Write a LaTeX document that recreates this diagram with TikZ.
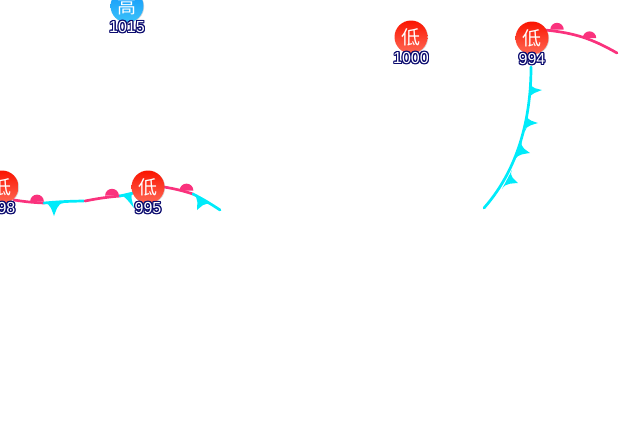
\documentclass[tikz,border=0pt]{standalone}
\usepackage{fontspec}
\usepackage[copies]{contour}
\setmainfont{Liberation Sans}
\newfontfamily\cjkfont{Noto Sans CJK SC}
\contourlength{1.1pt}
\contournumber{12}
\usetikzlibrary{shadows,calc}

\definecolor{warmfront}{RGB}{250,50,125}
\definecolor{coldfront}{RGB}{0,235,250}
\definecolor{haloblue}{RGB}{10,10,110}
\definecolor{lowtop}{RGB}{250,20,0}
\definecolor{lowbottom}{RGB}{255,105,85}
\definecolor{hightop}{RGB}{15,150,250}
\definecolor{highbottom}{RGB}{60,195,250}

\tikzset{
  warm/.style={draw=warmfront, line width=2.7pt, line cap=round},
  cold/.style={draw=coldfront, line width=2.7pt, line cap=round},
  warmbump/.style={fill=warmfront},
  coldbarb/.style={fill=coldfront},
  centre/.style={circle, minimum size=33pt, inner sep=0pt, text=white,
    font=\cjkfont\fontsize{19}{19}\selectfont,
    drop shadow={shadow xshift=0.7pt, shadow yshift=-0.5pt, opacity=0.3, fill=gray}},
  low/.style={centre, top color=lowtop, bottom color=lowbottom},
  high/.style={centre, top color=hightop, bottom color=highbottom},
  pressure/.style={inner sep=0pt, font=\fontsize{16}{16}\selectfont}
}

% half disc sitting on a warm front: centre, radius
\newcommand{\bump}[2]{\fill[warmbump] (#1) ++(-#2,0) arc[start angle=180, end angle=360, radius=#2] -- cycle;}
% cold barb: start on the line, tip, end on the line
\newcommand{\barb}[3]{\fill[coldbarb] (#1) .. controls ($(#1)!0.35!(#3)$) and ($(#2)!0.3!($(#1)!0.2!(#3)$)$) .. (#2)
  .. controls ($(#2)!0.3!($(#3)!0.2!(#1)$)$) and ($(#3)!0.35!(#1)$) .. (#3) -- cycle;}

\begin{document}
\begin{tikzpicture}[x=1pt, y=-1pt]
  \useasboundingbox (0,0) rectangle (640,440);
  \clip (0,0) rectangle (640,440);

  % front ends
  \coordinate (a1) at (14,200);
  \coordinate (a2) at (44,203);
  \coordinate (a3) at (84,201);
  \coordinate (a4) at (85,201);
  \coordinate (a5) at (120,196);
  \coordinate (a6) at (133,193);
  \coordinate (a7) at (164,187);
  \coordinate (a8) at (193,194);
  \coordinate (a9) at (220,210);
  \coordinate (b1) at (545,30);
  \coordinate (b2) at (617,53);
  \coordinate (b3) at (531,67);
  \coordinate (b4) at (484,208);

  % left front
  \draw[warm] (a1) to[bend right=3] (a2);
  \draw[cold] (a2) to[bend left=2] (a3);
  \draw[warm] (a4) to[bend left=3] (a5);
  \draw[cold] (a5) -- (a6);
  \draw[warm] (a7) to[bend left=4] (a8);
  \draw[cold] (a8) to[bend left=3] (a9);
  \bump{37,201.5}{6.9}
  \bump{112,195.7}{6.9}
  \bump{186.5,190.5}{6.9}
  \barb{44,203}{54,216}{64,203}
  \barb{119,195}{134,208}{134,193}
  \barb{193,194}{197,210}{211,205}

  % right front
  \draw[warm] (b1) to[bend left=12] (b2);
  \draw[cold] (b3) .. controls (531,110) and (522,165) .. (b4);
  \bump{557,29.5}{6.7}
  \bump{589.5,38}{6.7}
  \barb{531,83}{542,90}{529,99}
  \barb{527,115}{538,123}{525,131}
  \barb{522,141}{530,153}{515,160}
  \barb{512,170}{518,183}{502,189}

  % pressure centres
  \foreach \name/\kind/\txt/\px/\py/\val in {
      high1015/high/高/127/6/1015,
      low1000/low/低/411/37/1000,
      low994/low/低/532/38/994,
      low998/low/低/2/187/998,
      low995/low/低/148/187/995} {
    \node[\kind] (\name) at (\px,\py) {\txt};
    \node[pressure] (\name val) at (\px,\py+21.5) {\contour{haloblue}{\textcolor{white}{\val}}};
  }
\end{tikzpicture}
\end{document}
